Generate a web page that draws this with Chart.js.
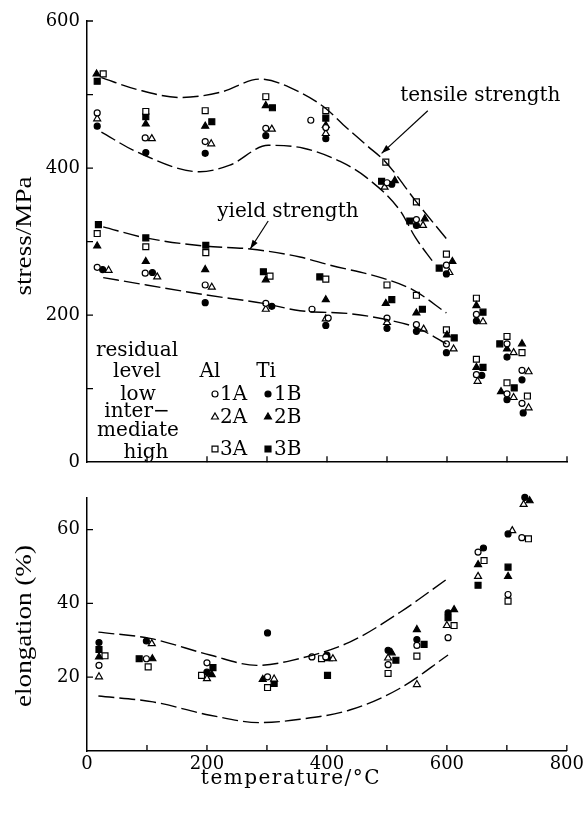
<!DOCTYPE html>
<html>
<head>
<meta charset="utf-8">
<script src="https://cdn.jsdelivr.net/npm/chart.js@4.4.1/dist/chart.umd.min.js"></script>
<style>
  html, body { margin: 0; padding: 0; background: #fff; }
  #wrap { position: relative; width: 587px; height: 814px; }
  canvas { position: absolute; left: 0; }
  #stressChart { top: 0; }
  #elongChart { top: 480px; }
</style>
</head>
<body>
<div id="wrap">
  <canvas id="stressChart" width="587" height="480"></canvas>
  <canvas id="elongChart" width="587" height="334"></canvas>
</div>
<script>
// axis ticks
const tempTicks = [0, 100, 200, 300, 400, 500, 600, 700, 800];
const stressTicks = [0, 100, 200, 300, 400, 500, 600];
const elongTicks = [0, 20, 40, 60];

// tensile strength [temperature, MPa]
const tensile1A = [[17, 475], [97, 441], [197, 436], [298, 454], [373, 465], [398, 455], [500, 380], [549, 330], [599, 268], [649, 201], [700, 161], [725, 125]];
const tensile1B = [[17, 457], [98, 421], [197, 420], [298, 444], [398, 440], [508, 378], [549, 322], [599, 256], [649, 192], [700, 143], [725, 112]];
const tensile2A = [[17, 467], [108, 440], [207, 433], [308, 453], [398, 447], [496, 374], [560, 322], [604, 258], [660, 191], [711, 149], [736, 123]];
const tensile2B = [[16, 528], [98, 460], [197, 457], [298, 485], [398, 458], [513, 383], [563, 331], [609, 273], [649, 213], [700, 154], [725, 161]];
const tensile3A = [[27, 528], [98, 477], [197, 478], [298, 497], [398, 478], [498, 408], [549, 354], [599, 283], [649, 223], [700, 171], [725, 149]];
const tensile3B = [[17, 518], [98, 470], [208, 463], [309, 482], [398, 468], [491, 382], [538, 328], [587, 264], [660, 204], [688, 161]];

// yield strength [temperature, MPa]
const yield1A = [[17, 265], [97, 257], [197, 241], [298, 216], [375, 208], [402, 196], [500, 196], [549, 187], [599, 161], [649, 119], [700, 93], [725, 80]];
const yield1B = [[26, 262], [109, 258], [197, 217], [308, 212], [398, 186], [500, 182], [549, 178], [599, 149], [658, 118], [700, 85], [727, 67]];
const yield2A = [[36, 261], [117, 252], [208, 238], [298, 208], [398, 195], [500, 190], [561, 181], [611, 154], [651, 110], [711, 88], [736, 74]];
const yield2B = [[17, 294], [98, 273], [197, 262], [298, 248], [398, 221], [498, 216], [549, 203], [600, 173], [649, 129], [690, 96]];
const yield3A = [[17, 311], [98, 293], [198, 285], [305, 253], [398, 249], [500, 241], [549, 227], [599, 180], [649, 140], [700, 108], [734, 90]];
const yield3B = [[19, 323], [98, 305], [198, 295], [294, 259], [388, 252], [508, 221], [559, 208], [612, 169], [660, 129], [712, 101]];

// elongation [temperature, %]
const elong1A = [[20, 23.2], [99, 25], [200, 23.9], [301, 20.1], [375, 25.5], [398, 25.5], [502, 23.4], [550, 28.6], [602, 30.7], [652, 53.9], [702, 42.4], [725, 57.8]];
const elong1B = [[20, 29.4], [99, 29.8], [200, 21.4], [301, 32], [400, 26], [502, 27.3], [550, 30.2], [602, 37.4], [661, 55], [702, 58.8], [730, 68.7]];
const elong2A = [[20, 20.1], [108, 29.1], [200, 19.6], [312, 19.5], [410, 25], [502, 25.2], [550, 18], [600, 34], [652, 47.3], [709, 59.7], [728, 66.8]];
const elong2B = [[20, 25.5], [109, 25], [208, 20.7], [293, 19.4], [403, 25], [508, 26.6], [550, 32.9], [612, 38.3], [652, 50.5], [702, 47.3], [738, 67.8]];
const elong3A = [[30, 25.8], [102, 22.8], [191, 20.5], [301, 17.2], [391, 25], [502, 21], [550, 25.7], [612, 34], [662, 51.6], [702, 40.6], [736, 57.5]];
const elong3B = [[20, 27.5], [87, 25], [210, 22.6], [312, 18.3], [401, 20.5], [515, 24.6], [562, 28.9], [602, 36.1], [652, 44.9], [702, 49.8]];

// dashed scatter bands
const tensileUpper = [[24, 523], [83, 507], [155, 496], [222, 503], [288, 521], [355, 503], [398, 481], [427, 459], [466, 431], [498, 408], [549, 354], [600, 303]];
const tensileLower = [[24, 449], [83, 422], [188, 395], [238, 404], [302, 431], [361, 427], [422, 409], [466, 387], [522, 342], [547, 306], [577, 272]];
const yieldUpper = [[27, 320], [98, 305], [194, 294], [272, 290], [355, 279], [405, 268], [494, 250], [544, 234], [599, 203]];
const yieldLower = [[27, 251], [99, 241], [194, 228], [294, 216], [355, 206], [438, 202], [499, 194], [549, 183], [599, 161]];
const elongUpper = [[19, 32.2], [105, 30.5], [205, 26], [283, 23.2], [340, 24.5], [438, 29.5], [522, 37.6], [602, 46.8]];
const elongLower = [[19, 14.9], [110, 13.3], [205, 9.7], [288, 7.7], [355, 8.6], [438, 11.1], [522, 17], [602, 26]];

const SERIF = "'DejaVu Serif', serif";
const TIMES = "'Liberation Serif', serif";

// marker for each specimen: Al = open, Ti = filled
const markers = {
  "1A": { shape: "circle", r: 3, filled: false },
  "1B": { shape: "circle", r: 3, filled: true },
  "2A": { shape: "triangle", r: 4, filled: false },
  "2B": { shape: "triangle", r: 4, filled: true },
  "3A": { shape: "rect", r: 4.2, filled: false },
  "3B": { shape: "rect", r: 4.2, filled: true },
};

function toXY(pts) {
  return pts.map((p) => ({ x: p[0], y: p[1] }));
}

function pointSet(name, pts) {
  const m = markers[name];
  return {
    label: name,
    data: toXY(pts),
    pointStyle: m.shape,
    pointRadius: m.r,
    pointHoverRadius: m.r,
    pointBackgroundColor: m.filled ? "#000" : "#fff",
    pointBorderColor: "#000",
    pointBorderWidth: 1.2,
    clip: false,
  };
}

function bandSet(pts) {
  return {
    label: "band",
    data: toXY(pts),
    showLine: true,
    borderColor: "#000",
    borderWidth: 1.4,
    borderDash: [16, 5],
    pointRadius: 0,
    cubicInterpolationMode: "monotone",
    fill: false,
    clip: false,
  };
}

function drawMarker(ctx, name, x, y) {
  const m = markers[name];
  ctx.save();
  ctx.fillStyle = m.filled ? "#000" : "#fff";
  ctx.strokeStyle = "#000";
  ctx.lineWidth = 1.2;
  ctx.beginPath();
  if (m.shape === "circle") {
    ctx.arc(x, y, m.r, 0, Math.PI * 2);
  } else if (m.shape === "triangle") {
    const h = m.r;
    ctx.moveTo(x, y - h);
    ctx.lineTo(x + h * 0.866, y + h * 0.5);
    ctx.lineTo(x - h * 0.866, y + h * 0.5);
    ctx.closePath();
  } else {
    const s = m.r * Math.SQRT1_2;
    ctx.rect(x - s, y - s, 2 * s, 2 * s);
  }
  ctx.fill();
  ctx.stroke();
  ctx.restore();
}

function arrow(ctx, x1, y1, x2, y2) {
  ctx.save();
  ctx.strokeStyle = "#000";
  ctx.fillStyle = "#000";
  ctx.lineWidth = 1.2;
  ctx.beginPath();
  ctx.moveTo(x1, y1);
  ctx.lineTo(x2, y2);
  ctx.stroke();
  const a = Math.atan2(y2 - y1, x2 - x1);
  ctx.beginPath();
  ctx.moveTo(x2, y2);
  ctx.lineTo(x2 - 9 * Math.cos(a) + 3 * Math.sin(a), y2 - 9 * Math.sin(a) - 3 * Math.cos(a));
  ctx.lineTo(x2 - 9 * Math.cos(a) - 3 * Math.sin(a), y2 - 9 * Math.sin(a) + 3 * Math.cos(a));
  ctx.closePath();
  ctx.fill();
  ctx.restore();
}

function text(ctx, str, x, y, size, align, family, spacing) {
  ctx.save();
  ctx.font = size + "px " + (family || SERIF);
  ctx.fillStyle = "#000";
  ctx.textAlign = align || "left";
  ctx.textBaseline = "alphabetic";
  if (spacing) ctx.letterSpacing = spacing;
  ctx.fillText(str, x, y);
  ctx.restore();
}

// rotated axis title, stretched a little along the text like the original type
function sideTitle(ctx, str, cx, cy) {
  ctx.save();
  ctx.translate(cx, cy);
  ctx.rotate(-Math.PI / 2);
  ctx.scale(1.18, 1);
  text(ctx, str, 0, 8, 23, "center", TIMES);
  ctx.restore();
}

// inward tick marks plus the free text of each panel
const paperMarks = {
  id: "paperMarks",
  afterDraw(chart, args, opts) {
    const ctx = chart.ctx;
    const xs = chart.scales.x;
    const ys = chart.scales.y;
    ctx.save();
    ctx.strokeStyle = "#000";
    ctx.lineWidth = 1.3;
    ctx.beginPath();
    xs.ticks.forEach((t) => {
      if (t.value === 0) return;
      const px = xs.getPixelForValue(t.value);
      ctx.moveTo(px, xs.top);
      ctx.lineTo(px, xs.top - 6);
    });
    ys.ticks.forEach((t) => {
      if (t.value === 0) return;
      const py = ys.getPixelForValue(t.value);
      ctx.moveTo(ys.right, py);
      ctx.lineTo(ys.right + 6, py);
    });
    ctx.stroke();
    ctx.restore();
    if (opts.draw) opts.draw(ctx, xs, ys);
  },
};

function axisOptions(yMin, yMax, yTicks, yLabel, xAxisHeight, showXLabels) {
  return {
    x: {
      type: "linear",
      min: 0,
      max: 800,
      afterBuildTicks: (s) => { s.ticks = tempTicks.map((v) => ({ value: v })); },
      afterFit: (s) => { s.height = xAxisHeight; },
      grid: { display: false, drawTicks: false },
      border: { display: true, color: "#000", width: 1.5 },
      ticks: {
        display: showXLabels,
        padding: 3,
        autoSkip: false,
        maxRotation: 0,
        color: "#000",
        font: { family: SERIF, size: 18 },
        callback: (v) => (v % 200 === 0 ? String(v) : ""),
      },
    },
    y: {
      type: "linear",
      min: yMin,
      max: yMax,
      afterBuildTicks: (s) => { s.ticks = yTicks.map((v) => ({ value: v })); },
      afterFit: (s) => { s.width = 87; },
      grid: { display: false, drawTicks: false },
      border: { display: true, color: "#000", width: 1.5 },
      ticks: {
        padding: 7,
        autoSkip: false,
        color: "#000",
        font: { family: SERIF, size: 18 },
        callback: yLabel,
      },
    },
  };
}

// upper panel: tensile and yield strength
new Chart(document.getElementById("stressChart"), {
  type: "scatter",
  data: {
    datasets: [
      bandSet(tensileUpper), bandSet(tensileLower),
      bandSet(yieldUpper), bandSet(yieldLower),
      pointSet("1A", tensile1A), pointSet("1B", tensile1B),
      pointSet("2A", tensile2A), pointSet("2B", tensile2B),
      pointSet("3A", tensile3A), pointSet("3B", tensile3B),
      pointSet("1A", yield1A), pointSet("1B", yield1B),
      pointSet("2A", yield2A), pointSet("2B", yield2B),
      pointSet("3A", yield3A), pointSet("3B", yield3B),
    ],
  },
  options: {
    responsive: false,
    animation: false,
    layout: { padding: { left: 0, right: 20, top: 21, bottom: 0 } },
    scales: axisOptions(0, 600, stressTicks, (v) => (v % 200 === 0 ? String(v) : ""), 12, false),
    plugins: {
      legend: { display: false },
      tooltip: { enabled: false },
      paperMarks: {
        draw(ctx, xs, ys) {
          const X = (v) => xs.getPixelForValue(v);
          const Y = (v) => ys.getPixelForValue(v);
          text(ctx, "tensile strength", X(522), Y(491), 20);
          arrow(ctx, X(568), Y(478), X(491), Y(420));
          text(ctx, "yield strength", X(217), Y(334), 20);
          arrow(ctx, X(302), Y(328), X(272), Y(290));

          sideTitle(ctx, "stress/MPa", 23, 236);

          // key table
          text(ctx, "residual", 137, 356, 20, "center");
          text(ctx, "level", 137, 377, 20, "center");
          text(ctx, "Al", 210, 377, 20, "center");
          text(ctx, "Ti", 266, 377, 20, "center");
          text(ctx, "low", 138, 400, 20, "center");
          text(ctx, "inter\u2212", 137, 417, 20, "center");
          text(ctx, "mediate", 138, 436, 20, "center");
          text(ctx, "high", 146, 458, 20, "center");
          const rows = [["1A", "1B", 400], ["2A", "2B", 423], ["3A", "3B", 455]];
          rows.forEach((r) => {
            drawMarker(ctx, r[0], 215, r[2] - 6);
            text(ctx, r[0], 220, r[2], 20);
            drawMarker(ctx, r[1], 268, r[2] - 6);
            text(ctx, r[1], 274, r[2], 20);
          });
        },
      },
    },
  },
  plugins: [paperMarks],
});

// lower panel: elongation
new Chart(document.getElementById("elongChart"), {
  type: "scatter",
  data: {
    datasets: [
      bandSet(elongUpper), bandSet(elongLower),
      pointSet("1A", elong1A), pointSet("1B", elong1B),
      pointSet("2A", elong2A), pointSet("2B", elong2B),
      pointSet("3A", elong3A), pointSet("3B", elong3B),
    ],
  },
  options: {
    responsive: false,
    animation: false,
    layout: { padding: { left: 0, right: 20, top: 17, bottom: 0 } },
    scales: axisOptions(0, 68.6, elongTicks, (v) => (v === 0 ? "" : String(v)), 63, true),
    plugins: {
      legend: { display: false },
      tooltip: { enabled: false },
      paperMarks: {
        draw(ctx, xs, ys) {
          sideTitle(ctx, "elongation (%)", 23, 146);
          text(ctx, "temperature/\u00b0C", 291, 304, 20, "center", SERIF, "1.5px");
        },
      },
    },
  },
  plugins: [paperMarks],
});
</script>
</body>
</html>
